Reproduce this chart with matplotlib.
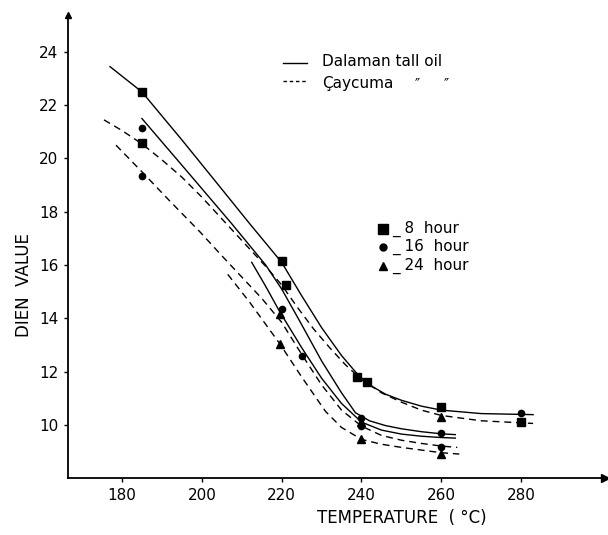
import matplotlib
matplotlib.use('Agg')
import matplotlib.pyplot as plt

# curves (temperature, dien value)
dal8_t = [177, 185, 195, 205, 212, 220, 225, 230, 235, 239, 242, 246, 250, 255, 260, 270, 283]
dal8_v = [23.45, 22.5, 20.7, 18.85, 17.55, 16.1, 14.85, 13.65, 12.6, 11.9, 11.5, 11.15, 10.92, 10.7, 10.55, 10.42, 10.38]
dal16_t = [185, 195, 207.5, 216, 220, 224.5, 230, 235, 238.5, 242, 246, 250, 255, 260, 263.5]
dal16_v = [21.5, 19.75, 17.55, 16.0, 15.1, 13.9, 12.4, 11.2, 10.45, 10.15, 9.97, 9.85, 9.74, 9.66, 9.63]
dal24_t = [212.5, 216, 219.5, 225, 230, 235, 240, 245, 250, 255, 260, 263.5]
dal24_v = [16.1, 15.2, 14.25, 12.9, 11.75, 10.8, 10.1, 9.8, 9.65, 9.57, 9.52, 9.5]
cay8_t = [175.5, 180, 185, 190, 195, 200, 204, 208, 212, 216, 220, 224, 228, 232, 236, 240, 245, 250, 255, 260, 270, 283]
cay8_v = [21.45, 21.05, 20.55, 19.95, 19.3, 18.55, 17.9, 17.25, 16.6, 15.95, 15.25, 14.4, 13.6, 12.9, 12.25, 11.7, 11.2, 10.85, 10.55, 10.35, 10.15, 10.05]
cay16_t = [178.5, 185, 192, 199.5, 205, 210, 215, 220, 225, 230, 235, 240, 245, 250, 255, 260, 264]
cay16_v = [20.5, 19.5, 18.4, 17.25, 16.35, 15.55, 14.75, 13.85, 12.65, 11.5, 10.55, 9.95, 9.6, 9.42, 9.3, 9.2, 9.15]
cay24_t = [206.5, 212, 219.5, 225, 231, 235, 240, 245, 250, 255, 260, 264.5]
cay24_v = [15.65, 14.6, 13.05, 11.8, 10.5, 9.9, 9.45, 9.27, 9.15, 9.05, 8.95, 8.9]

# measured points
sq_t = [185, 185, 220, 221, 239, 241.5, 260, 280]
sq_v = [22.5, 20.6, 16.15, 15.25, 11.8, 11.6, 10.65, 10.12]
ci_t = [185, 185, 220, 225, 240, 240, 260, 260, 280]
ci_v = [21.15, 19.35, 14.35, 12.6, 10.25, 9.95, 9.7, 9.15, 10.45]
tr_t = [219.5, 219.5, 240, 240, 260, 260]
tr_v = [14.15, 13.05, 10.1, 9.45, 10.3, 8.9]

xticks = [180, 200, 220, 240, 260, 280]
yticks = [10, 12, 14, 16, 18, 20, 22, 24]

def main():
	fig = plt.figure(figsize=(6.08, 5.35), dpi=100)
	ax = fig.add_axes([0.112, 0.1065, 0.883, 0.866])
	ax.set_xlim(166.5, 301)
	ax.set_ylim(8, 25.4)

	lw = 1.0
	dash = (0, (5, 3.5))
	ax.plot(dal8_t, dal8_v, 'k-', lw=lw)
	ax.plot(dal16_t, dal16_v, 'k-', lw=lw)
	ax.plot(dal24_t, dal24_v, 'k-', lw=lw)
	ax.plot(cay8_t, cay8_v, 'k', ls=dash, lw=lw)
	ax.plot(cay16_t, cay16_v, 'k', ls=dash, lw=lw)
	ax.plot(cay24_t, cay24_v, 'k', ls=dash, lw=lw)

	ax.plot(sq_t, sq_v, 'ks', ms=6, ls='none')
	ax.plot(ci_t, ci_v, 'ko', ms=4.5, ls='none')
	ax.plot(tr_t, tr_v, 'k^', ms=5.5, ls='none')

	for s in ['top', 'right']:
		ax.spines[s].set_visible(False)
	for s in ['left', 'bottom']:
		ax.spines[s].set_linewidth(1.3)
	ax.plot(1, 0, '>k', ms=6, transform=ax.transAxes, clip_on=False)
	ax.plot(0, 1, '^k', ms=5, transform=ax.transAxes, clip_on=False)

	ax.set_xticks(xticks)
	ax.set_yticks(yticks)
	ax.tick_params(direction='out', length=3, width=1, labelsize=11, pad=4)

	fig.text(0.04, 0.467, 'DIEN  VALUE', rotation=90, ha='center', va='center', fontsize=12)
	fig.text(0.661, 0.032, 'TEMPERATURE  ( °C)', ha='center', va='center', fontsize=12)

	# line style legend
	ax.plot([220.3, 226.4], [23.6, 23.6], 'k-', lw=lw)
	ax.plot([220.3, 226.4], [22.9, 22.9], 'k', ls=(0, (2.5, 2)), lw=lw)
	ax.text(230.1, 23.66, 'Dalaman tall oil', fontsize=11, va='center')
	ax.text(230.1, 22.83, 'Çaycuma', fontsize=11, va='center')
	ax.text(253.9, 22.83, '″', fontsize=10, ha='center', va='center')
	ax.text(261.2, 22.83, '″', fontsize=10, ha='center', va='center')

	# marker legend
	ax.plot([245.4], [17.35], 'ks', ms=7)
	ax.plot([245.4], [16.67], 'ko', ms=5)
	ax.plot([245.4], [15.95], 'k^', ms=6)
	ax.text(247.8, 17.35, '_ 8  hour', fontsize=11, va='center')
	ax.text(247.8, 16.67, '_ 16  hour', fontsize=11, va='center')
	ax.text(247.8, 15.95, '_ 24  hour', fontsize=11, va='center')

	fig.savefig('out.png', dpi=100)

if __name__ == "__main__":
	main()
